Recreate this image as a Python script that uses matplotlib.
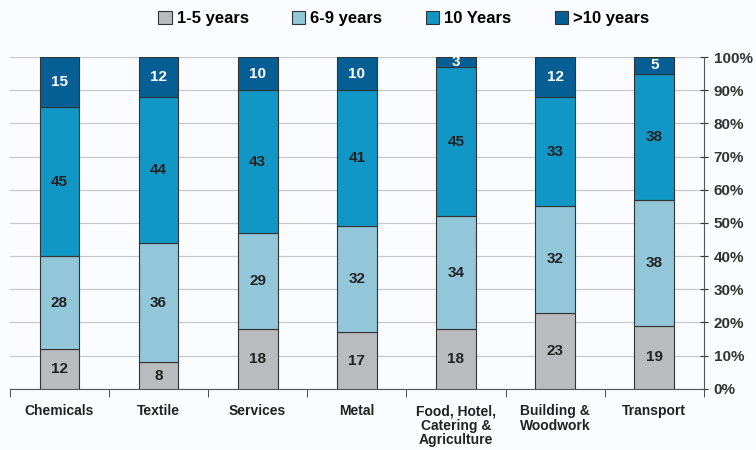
import numpy as np
import matplotlib.pyplot as plt
from matplotlib.ticker import MultipleLocator, FuncFormatter

categories = ["Chemicals", "Textile", "Services", "Metal",
              "Food, Hotel,\nCatering &\nAgriculture", "Building &\nWoodwork", "Transport"]
series_names = ["1-5 years", "6-9 years", "10 Years", ">10 years"]
yrs_1_5 = [12, 8, 18, 17, 18, 23, 19]
yrs_6_9 = [28, 36, 29, 32, 34, 32, 38]
yrs_10 = [45, 44, 43, 41, 45, 33, 38]
yrs_over_10 = [15, 12, 10, 10, 3, 12, 5]

colors = ["#b9bbbe", "#92c6d9", "#1197c6", "#055f95"]
text_colors = ["#222222", "#222222", "#222222", "white"]

plt.rcParams['font.family'] = ['Liberation Sans Narrow', 'Liberation Sans', 'DejaVu Sans']

fig = plt.figure(figsize=(7.56, 4.5), dpi=100)
fig.patch.set_facecolor("#fafcff")
ax = fig.add_axes([0.013, 0.136, 0.918, 0.737])
ax.set_facecolor("#fafcff")

x = np.arange(len(categories))
width = 0.4
bottom = np.zeros(len(categories))
for name, vals, c, tc in zip(series_names, [yrs_1_5, yrs_6_9, yrs_10, yrs_over_10], colors, text_colors):
    vals = np.array(vals, dtype=float)
    ax.bar(x, vals, width, bottom=bottom, color=c, edgecolor="#333333",
           linewidth=0.8, label=name, zorder=3)
    for xi, b, v in zip(x, bottom, vals):
        ax.text(xi, b + v / 2, f"{int(v)}", ha="center", va="center",
                fontsize=11, fontweight="bold", color=tc, zorder=4)
    bottom += vals

ax.set_xlim(-0.5, len(categories) - 0.5)
ax.set_ylim(0, 100)
ax.yaxis.tick_right()
ax.yaxis.set_major_locator(MultipleLocator(10))
ax.yaxis.set_major_formatter(FuncFormatter(lambda v, p: f"{int(v)}%"))
ax.grid(axis="y", color="#c8c8c8", linewidth=0.9, zorder=0)
ax.tick_params(axis="y", direction="inout", length=6, labelsize=11, colors="#333333", pad=4)
for lab in ax.get_yticklabels():
    lab.set_fontweight("bold")

ax.set_xticks(x)
ax.set_xticklabels(categories, fontsize=10, fontweight="bold", color="#222222", linespacing=1.05)
ax.set_xticks(np.arange(-0.5, len(categories)), minor=True)
ax.tick_params(axis="x", which="major", length=0, pad=11)
ax.tick_params(axis="x", which="minor", length=6, direction="out", color="#333333")

for side in ["top", "left"]:
    ax.spines[side].set_visible(False)
ax.spines["right"].set_color("#555555")
ax.spines["bottom"].set_color("#555555")

fig.legend(loc="center", bbox_to_anchor=(0.534, 0.958), ncol=4, frameon=False,
           prop={"size": 12, "weight": "bold"}, handlelength=0.8, handleheight=0.8,
           handletextpad=0.3, columnspacing=2.6)

plt.savefig("out.png", dpi=100, facecolor=fig.get_facecolor())
plt.close()
